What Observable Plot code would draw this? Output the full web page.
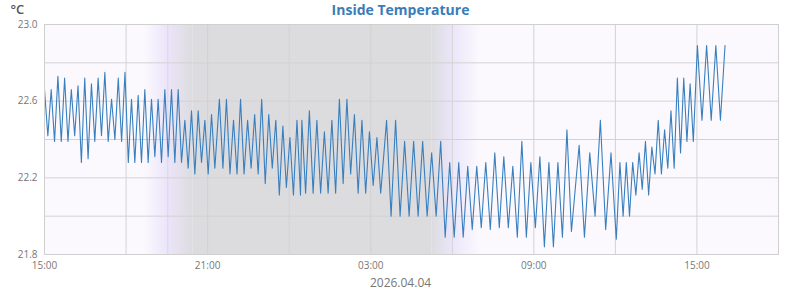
<!DOCTYPE html>
<html>
<head>
<meta charset="utf-8">
<script src="https://cdn.jsdelivr.net/npm/d3@7"></script>
<script src="https://cdn.jsdelivr.net/npm/@observablehq/plot@0.6"></script>
<style>
  body { margin: 0; background: #ffffff; font-family: "Open Sans", sans-serif; }
  #chart svg { display: block; }
</style>
</head>
<body>
<div id="chart"></div>
<script>
// Readings (°C): alternating peaks and troughs of the thermostat cycles, in blocks
const block1 = [22.66,22.42, 22.66,22.39, 22.73,22.39, 22.72,22.39, 22.66,22.42, 22.68,22.28, 22.72,22.30, 22.69,22.39, 22.72,22.42, 22.75,22.39, 22.61,22.40, 22.72,22.39, 22.75,22.28];
const block2 = [22.61,22.28, 22.63,22.28, 22.66,22.28, 22.61,22.31, 22.61,22.28, 22.66,22.31, 22.66,22.28, 22.66,22.28, 22.50,22.25, 22.55,22.22, 22.55,22.28, 22.50,22.22, 22.53,22.25];
const block3 = [22.61,22.25, 22.61,22.22, 22.50,22.22, 22.61,22.22, 22.50,22.25, 22.53,22.22, 22.61,22.17, 22.53,22.25, 22.50,22.11, 22.47,22.15, 22.41,22.11, 22.50,22.11];
const block4 = [22.50,22.12, 22.55,22.12, 22.50,22.12, 22.44,22.12, 22.50,22.12, 22.61,22.17, 22.61,22.22, 22.53,22.12, 22.50,22.12, 22.44,22.16, 22.41,22.12];
const block5 = [22.50,22.00, 22.50,22.00, 22.39,22.00, 22.39,22.00, 22.39,22.00, 22.33,22.00, 22.39,21.89, 22.28,21.89, 22.28,21.89, 22.26,21.93, 22.26,21.94, 22.28,21.93, 22.33,21.94, 22.31,21.94, 22.26,21.89, 22.39,21.89, 22.28,21.94, 22.31,21.84, 22.28,21.84, 22.28,21.89, 22.45,21.92];
const block6 = [22.37,21.89, 22.33,22.00, 22.50,21.93, 22.33,21.88];
const block7 = [22.28,22.00, 22.28,22.00, 22.28,22.11, 22.33,22.14, 22.39,22.11, 22.36,22.22, 22.50,22.22, 22.45,22.25, 22.55,22.25, 22.72,22.33, 22.72,22.39, 22.69,22.39];
const block8 = [22.89,22.50, 22.89,22.50, 22.89,22.50, 22.89];

// Time of the first and last reading in each block
const blockFirst = ["2026-04-03T15:00","2026-04-03T18:12","2026-04-03T21:26","2026-04-04T00:28","2026-04-04T03:35","2026-04-04T10:40","2026-04-04T12:10","2026-04-04T15:01"];
const blockLast  = ["2026-04-03T18:05","2026-04-03T21:16","2026-04-04T00:25","2026-04-04T03:22","2026-04-04T10:23","2026-04-04T12:02","2026-04-04T14:52","2026-04-04T16:02"];

// Axes
const xDomain = ["2026-04-03T15:00","2026-04-04T18:00"];
const xTicks = ["2026-04-03T15:00","2026-04-03T21:00","2026-04-04T03:00","2026-04-04T09:00","2026-04-04T15:00"];
const xGrid = ["2026-04-03T15:00","2026-04-03T18:00","2026-04-03T21:00","2026-04-04T00:00","2026-04-04T03:00","2026-04-04T06:00","2026-04-04T09:00","2026-04-04T12:00","2026-04-04T15:00","2026-04-04T18:00"];
const yTicks = [21.8, 22.2, 22.6, 23.0];
const yGrid = [21.8, 22.0, 22.2, 22.4, 22.6, 22.8, 23.0];

// Night / twilight periods
const duskTimes = ["2026-04-03T18:41","2026-04-03T19:32","2026-04-03T20:28"];
const dawnTimes = ["2026-04-04T05:15","2026-04-04T06:00","2026-04-04T07:02"];

const titleText = "Inside Temperature";
const unitText = "°C";
const dateText = "2026.04.04";

const parse = s => new Date(s + ":00Z");
const blocks = [block1, block2, block3, block4, block5, block6, block7, block8];
const points = blocks.flatMap((vals, b) => {
  const t0 = +parse(blockFirst[b]), t1 = +parse(blockLast[b]);
  const dt = vals.length > 1 ? (t1 - t0) / (vals.length - 1) : 0;
  return vals.map((v, k) => ({t: new Date(t0 + k * dt), v}));
});

const BG = "#fbf9fe", LAV = "#ebe5f9", NIGHT = "#dcdcdf";

function defs() {
  const g = d3.create("svg:g");
  const d = g.append("defs");
  const grads = [
    ["g-dusk1", BG, LAV], ["g-dusk2", LAV, NIGHT],
    ["g-dawn1", NIGHT, LAV], ["g-dawn2", LAV, BG]
  ];
  for (const [id, a, b] of grads) {
    const lg = d.append("linearGradient").attr("id", id).attr("x1", 0).attr("x2", 1).attr("y1", 0).attr("y2", 0);
    lg.append("stop").attr("offset", "0%").attr("stop-color", a);
    lg.append("stop").attr("offset", "100%").attr("stop-color", b);
  }
  return g.node();
}

const span = (a, b) => [{a: parse(a), b: parse(b)}];

const chart = Plot.plot({
  width: 800,
  height: 290,
  marginLeft: 44,
  marginRight: 22,
  marginTop: 24,
  marginBottom: 36,
  style: {fontFamily: "Open Sans", fontSize: "10px", color: "#777", background: "#ffffff"},
  x: {type: "utc", domain: xDomain.map(parse)},
  y: {domain: [yGrid[0], yGrid[yGrid.length - 1]]},
  marks: [
    defs,
    Plot.frame({fill: BG, stroke: null}),
    Plot.rect(span(duskTimes[0], duskTimes[1]), {x1: "a", x2: "b", fill: "url(#g-dusk1)"}),
    Plot.rect(span(duskTimes[1], duskTimes[2]), {x1: "a", x2: "b", fill: "url(#g-dusk2)"}),
    Plot.rect(span(duskTimes[2], dawnTimes[0]), {x1: "a", x2: "b", fill: NIGHT}),
    Plot.rect(span(dawnTimes[0], dawnTimes[1]), {x1: "a", x2: "b", fill: "url(#g-dawn1)"}),
    Plot.rect(span(dawnTimes[1], dawnTimes[2]), {x1: "a", x2: "b", fill: "url(#g-dawn2)"}),
    Plot.ruleX([parse(duskTimes[1])], {stroke: "#ddd6ea", strokeWidth: 1}),
    Plot.gridX(xGrid.map(parse), {stroke: "#d2d2d2", strokeOpacity: 1}),
    Plot.gridY(yGrid, {stroke: "#d2d2d2", strokeOpacity: 1}),
    Plot.axisX(xTicks.map(parse), {tickSize: 0, tickPadding: 7, tickFormat: d3.utcFormat("%H:%M"), fill: "#777", fontSize: 10, label: null}),
    Plot.axisY(yTicks, {tickSize: 0, tickPadding: 7, tickFormat: d3.format(".1f"), fill: "#777", fontSize: 10, label: null}),
    Plot.line(points, {x: "t", y: "v", curve: "linear", stroke: "#3a7fbd", strokeWidth: 1.1}),
    Plot.frame({stroke: "#d0d0d0"}),
    Plot.text([titleText], {text: d => d, frameAnchor: "top", dx: -11, dy: -14, lineAnchor: "middle", fontSize: 14, fontWeight: "bold", fill: "#3a7cb8"}),
    Plot.text([unitText], {text: d => d, frameAnchor: "top-left", dx: -34, dy: -15, lineAnchor: "middle", textAnchor: "start", fontSize: 13, fontWeight: 600, fill: "#555"}),
    Plot.text([dateText], {text: d => d, frameAnchor: "bottom", dx: -11, dy: 29, lineAnchor: "middle", fontSize: 12, fill: "#777"})
  ]
});
document.getElementById("chart").append(chart);
</script>
</body>
</html>
